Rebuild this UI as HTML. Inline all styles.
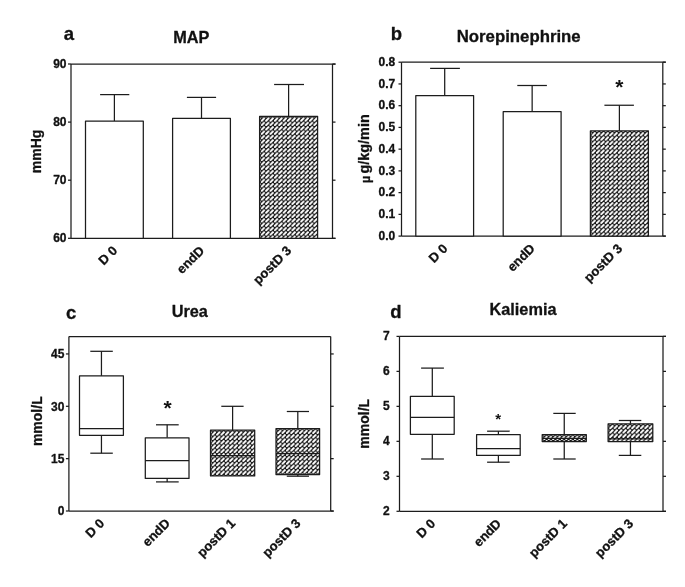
<!DOCTYPE html>
<html><head><meta charset="utf-8"><title>Figure</title>
<style>
html,body{margin:0;padding:0;background:#fff;}
body{width:685px;height:587px;overflow:hidden;font-family:"Liberation Sans",sans-serif;}
svg{display:block;will-change:transform;}
</style></head><body>
<svg width="685" height="587" viewBox="0 0 685 587">
<defs>
<pattern id="h0" patternUnits="userSpaceOnUse" x="260.81" y="117.31" width="4.38" height="4.38"><rect width="4.38" height="4.38" fill="#111"/><line x1="0.9" y1="3.48" x2="3.28" y2="1.1" stroke="#fff" stroke-width="2.1" stroke-linecap="round"/></pattern>
<pattern id="h1" patternUnits="userSpaceOnUse" x="591.61" y="131.91" width="4.38" height="4.38"><rect width="4.38" height="4.38" fill="#111"/><line x1="0.9" y1="3.48" x2="3.28" y2="1.1" stroke="#fff" stroke-width="2.1" stroke-linecap="round"/></pattern>
<pattern id="h2" patternUnits="userSpaceOnUse" x="211.71" y="431.21" width="4.38" height="4.38"><rect width="4.38" height="4.38" fill="#111"/><line x1="0.9" y1="3.48" x2="3.28" y2="1.1" stroke="#fff" stroke-width="2.1" stroke-linecap="round"/></pattern>
<pattern id="h3" patternUnits="userSpaceOnUse" x="277.21" y="429.61" width="4.38" height="4.38"><rect width="4.38" height="4.38" fill="#111"/><line x1="0.9" y1="3.48" x2="3.28" y2="1.1" stroke="#fff" stroke-width="2.1" stroke-linecap="round"/></pattern>
<pattern id="h4" patternUnits="userSpaceOnUse" x="543.41" y="435.61" width="4.38" height="4.38"><rect width="4.38" height="4.38" fill="#111"/><line x1="0.9" y1="3.48" x2="3.28" y2="1.1" stroke="#fff" stroke-width="2.1" stroke-linecap="round"/></pattern>
<pattern id="h5" patternUnits="userSpaceOnUse" x="609.31" y="424.81" width="4.38" height="4.38"><rect width="4.38" height="4.38" fill="#111"/><line x1="0.9" y1="3.48" x2="3.28" y2="1.1" stroke="#fff" stroke-width="2.1" stroke-linecap="round"/></pattern>
</defs>
<rect width="685" height="587" fill="#fff"/>
<g font-family="Liberation Sans, sans-serif" fill="#111" stroke-linejoin="round">
<line x1="71.00" y1="64.00" x2="335.50" y2="64.00" stroke="#1c1c1c" stroke-width="1.25"/>
<line x1="71.00" y1="238.30" x2="335.50" y2="238.30" stroke="#1c1c1c" stroke-width="1.25"/>
<line x1="71.00" y1="64.00" x2="71.00" y2="238.30" stroke="#1c1c1c" stroke-width="1.25"/>
<line x1="332.50" y1="64.00" x2="332.50" y2="238.30" stroke="#1c1c1c" stroke-width="1.25"/>
<line x1="68.00" y1="238.30" x2="71.00" y2="238.30" stroke="#1c1c1c" stroke-width="1.25"/>
<line x1="332.50" y1="238.30" x2="335.50" y2="238.30" stroke="#1c1c1c" stroke-width="1.25"/>
<text x="66.50" y="242.00" font-size="12" font-weight="bold" text-anchor="end" stroke="#111" stroke-width="0.3" >60</text>
<line x1="68.00" y1="180.20" x2="71.00" y2="180.20" stroke="#1c1c1c" stroke-width="1.25"/>
<line x1="332.50" y1="180.20" x2="335.50" y2="180.20" stroke="#1c1c1c" stroke-width="1.25"/>
<text x="66.50" y="183.90" font-size="12" font-weight="bold" text-anchor="end" stroke="#111" stroke-width="0.3" >70</text>
<line x1="68.00" y1="122.10" x2="71.00" y2="122.10" stroke="#1c1c1c" stroke-width="1.25"/>
<line x1="332.50" y1="122.10" x2="335.50" y2="122.10" stroke="#1c1c1c" stroke-width="1.25"/>
<text x="66.50" y="125.80" font-size="12" font-weight="bold" text-anchor="end" stroke="#111" stroke-width="0.3" >80</text>
<line x1="68.00" y1="64.00" x2="71.00" y2="64.00" stroke="#1c1c1c" stroke-width="1.25"/>
<line x1="332.50" y1="64.00" x2="335.50" y2="64.00" stroke="#1c1c1c" stroke-width="1.25"/>
<text x="66.50" y="67.70" font-size="12" font-weight="bold" text-anchor="end" stroke="#111" stroke-width="0.3" >90</text>
<line x1="114.40" y1="121.10" x2="114.40" y2="94.60" stroke="#1c1c1c" stroke-width="1.25"/>
<line x1="100.10" y1="94.60" x2="129.30" y2="94.60" stroke="#1c1c1c" stroke-width="1.25"/>
<rect x="85.50" y="121.10" width="57.80" height="117.20" fill="#fff" stroke="#1c1c1c" stroke-width="1.25"/>
<line x1="201.50" y1="118.30" x2="201.50" y2="97.40" stroke="#1c1c1c" stroke-width="1.25"/>
<line x1="186.90" y1="97.40" x2="216.10" y2="97.40" stroke="#1c1c1c" stroke-width="1.25"/>
<rect x="172.60" y="118.30" width="57.80" height="120.00" fill="#fff" stroke="#1c1c1c" stroke-width="1.25"/>
<line x1="288.60" y1="116.30" x2="288.60" y2="84.50" stroke="#1c1c1c" stroke-width="1.25"/>
<line x1="274.10" y1="84.50" x2="304.00" y2="84.50" stroke="#1c1c1c" stroke-width="1.25"/>
<rect x="259.60" y="116.30" width="58.00" height="122.00" fill="url(#h0)" stroke="#1c1c1c" stroke-width="1.25"/>
<text x="118.00" y="251.50" font-size="13" font-weight="bold" text-anchor="end" stroke="#111" stroke-width="0.3" transform="rotate(-45 118.00 251.50)">D 0</text>
<text x="205.10" y="251.50" font-size="13" font-weight="bold" text-anchor="end" stroke="#111" stroke-width="0.3" transform="rotate(-45 205.10 251.50)">endD</text>
<text x="292.20" y="251.50" font-size="13" font-weight="bold" text-anchor="end" stroke="#111" stroke-width="0.3" transform="rotate(-45 292.20 251.50)">postD 3</text>
<text x="41.50" y="151.40" font-size="14" font-weight="bold" text-anchor="middle" stroke="#111" stroke-width="0.3" transform="rotate(-90 41.50 151.40)">mmHg</text>
<text x="191.30" y="42.50" font-size="16.3" font-weight="bold" text-anchor="middle" stroke="#111" stroke-width="0.3" >MAP</text>
<text x="63.80" y="39.60" font-size="18.5" font-weight="bold" text-anchor="start" stroke="#111" stroke-width="0.3" >a</text>
<line x1="401.50" y1="62.20" x2="665.80" y2="62.20" stroke="#1c1c1c" stroke-width="1.25"/>
<line x1="401.50" y1="236.10" x2="665.80" y2="236.10" stroke="#1c1c1c" stroke-width="1.25"/>
<line x1="401.50" y1="62.20" x2="401.50" y2="236.10" stroke="#1c1c1c" stroke-width="1.25"/>
<line x1="662.80" y1="62.20" x2="662.80" y2="236.10" stroke="#1c1c1c" stroke-width="1.25"/>
<line x1="398.50" y1="236.10" x2="401.50" y2="236.10" stroke="#1c1c1c" stroke-width="1.25"/>
<line x1="662.80" y1="236.10" x2="665.80" y2="236.10" stroke="#1c1c1c" stroke-width="1.25"/>
<text x="395.20" y="239.80" font-size="12" font-weight="bold" text-anchor="end" stroke="#111" stroke-width="0.3" >0.0</text>
<line x1="398.50" y1="214.36" x2="401.50" y2="214.36" stroke="#1c1c1c" stroke-width="1.25"/>
<line x1="662.80" y1="214.36" x2="665.80" y2="214.36" stroke="#1c1c1c" stroke-width="1.25"/>
<text x="395.20" y="218.06" font-size="12" font-weight="bold" text-anchor="end" stroke="#111" stroke-width="0.3" >0.1</text>
<line x1="398.50" y1="192.62" x2="401.50" y2="192.62" stroke="#1c1c1c" stroke-width="1.25"/>
<line x1="662.80" y1="192.62" x2="665.80" y2="192.62" stroke="#1c1c1c" stroke-width="1.25"/>
<text x="395.20" y="196.32" font-size="12" font-weight="bold" text-anchor="end" stroke="#111" stroke-width="0.3" >0.2</text>
<line x1="398.50" y1="170.89" x2="401.50" y2="170.89" stroke="#1c1c1c" stroke-width="1.25"/>
<line x1="662.80" y1="170.89" x2="665.80" y2="170.89" stroke="#1c1c1c" stroke-width="1.25"/>
<text x="395.20" y="174.59" font-size="12" font-weight="bold" text-anchor="end" stroke="#111" stroke-width="0.3" >0.3</text>
<line x1="398.50" y1="149.15" x2="401.50" y2="149.15" stroke="#1c1c1c" stroke-width="1.25"/>
<line x1="662.80" y1="149.15" x2="665.80" y2="149.15" stroke="#1c1c1c" stroke-width="1.25"/>
<text x="395.20" y="152.85" font-size="12" font-weight="bold" text-anchor="end" stroke="#111" stroke-width="0.3" >0.4</text>
<line x1="398.50" y1="127.41" x2="401.50" y2="127.41" stroke="#1c1c1c" stroke-width="1.25"/>
<line x1="662.80" y1="127.41" x2="665.80" y2="127.41" stroke="#1c1c1c" stroke-width="1.25"/>
<text x="395.20" y="131.11" font-size="12" font-weight="bold" text-anchor="end" stroke="#111" stroke-width="0.3" >0.5</text>
<line x1="398.50" y1="105.68" x2="401.50" y2="105.68" stroke="#1c1c1c" stroke-width="1.25"/>
<line x1="662.80" y1="105.68" x2="665.80" y2="105.68" stroke="#1c1c1c" stroke-width="1.25"/>
<text x="395.20" y="109.38" font-size="12" font-weight="bold" text-anchor="end" stroke="#111" stroke-width="0.3" >0.6</text>
<line x1="398.50" y1="83.94" x2="401.50" y2="83.94" stroke="#1c1c1c" stroke-width="1.25"/>
<line x1="662.80" y1="83.94" x2="665.80" y2="83.94" stroke="#1c1c1c" stroke-width="1.25"/>
<text x="395.20" y="87.64" font-size="12" font-weight="bold" text-anchor="end" stroke="#111" stroke-width="0.3" >0.7</text>
<line x1="398.50" y1="62.20" x2="401.50" y2="62.20" stroke="#1c1c1c" stroke-width="1.25"/>
<line x1="662.80" y1="62.20" x2="665.80" y2="62.20" stroke="#1c1c1c" stroke-width="1.25"/>
<text x="395.20" y="65.90" font-size="12" font-weight="bold" text-anchor="end" stroke="#111" stroke-width="0.3" >0.8</text>
<line x1="444.70" y1="95.60" x2="444.70" y2="68.40" stroke="#1c1c1c" stroke-width="1.25"/>
<line x1="430.10" y1="68.40" x2="459.90" y2="68.40" stroke="#1c1c1c" stroke-width="1.25"/>
<rect x="415.80" y="95.60" width="57.80" height="140.50" fill="#fff" stroke="#1c1c1c" stroke-width="1.25"/>
<line x1="532.15" y1="111.70" x2="532.15" y2="85.50" stroke="#1c1c1c" stroke-width="1.25"/>
<line x1="517.30" y1="85.50" x2="546.90" y2="85.50" stroke="#1c1c1c" stroke-width="1.25"/>
<rect x="503.20" y="111.70" width="57.90" height="124.40" fill="#fff" stroke="#1c1c1c" stroke-width="1.25"/>
<line x1="619.40" y1="130.90" x2="619.40" y2="105.25" stroke="#1c1c1c" stroke-width="1.25"/>
<line x1="604.40" y1="105.25" x2="633.90" y2="105.25" stroke="#1c1c1c" stroke-width="1.25"/>
<rect x="590.40" y="130.90" width="58.00" height="105.20" fill="url(#h1)" stroke="#1c1c1c" stroke-width="1.25"/>
<text x="619.30" y="94.32" font-size="21" font-weight="bold" text-anchor="middle">*</text>
<text x="448.30" y="249.30" font-size="13" font-weight="bold" text-anchor="end" stroke="#111" stroke-width="0.3" transform="rotate(-45 448.30 249.30)">D 0</text>
<text x="535.70" y="249.30" font-size="13" font-weight="bold" text-anchor="end" stroke="#111" stroke-width="0.3" transform="rotate(-45 535.70 249.30)">endD</text>
<text x="623.00" y="249.30" font-size="13" font-weight="bold" text-anchor="end" stroke="#111" stroke-width="0.3" transform="rotate(-45 623.00 249.30)">postD 3</text>
<text x="368.6" y="148.6" font-size="14.4" font-weight="bold" text-anchor="middle" stroke="#111" stroke-width="0.3" transform="rotate(-90 368.6 148.6)"><tspan font-size="12.5" dy="1.2">µ</tspan><tspan dx="2.2" dy="-0.8">g/kg/min</tspan></text>
<text x="518.70" y="42.00" font-size="16.8" font-weight="bold" text-anchor="middle" stroke="#111" stroke-width="0.3" >Norepinephrine</text>
<text x="390.80" y="39.70" font-size="18.5" font-weight="bold" text-anchor="start" stroke="#111" stroke-width="0.3" >b</text>
<line x1="68.90" y1="336.50" x2="330.70" y2="336.50" stroke="#1c1c1c" stroke-width="1.25"/>
<line x1="68.90" y1="511.00" x2="333.70" y2="511.00" stroke="#1c1c1c" stroke-width="1.25"/>
<line x1="68.90" y1="336.50" x2="68.90" y2="511.00" stroke="#1c1c1c" stroke-width="1.25"/>
<line x1="330.70" y1="336.50" x2="330.70" y2="511.00" stroke="#1c1c1c" stroke-width="1.25"/>
<line x1="65.90" y1="511.00" x2="68.90" y2="511.00" stroke="#1c1c1c" stroke-width="1.25"/>
<line x1="330.70" y1="511.00" x2="333.70" y2="511.00" stroke="#1c1c1c" stroke-width="1.25"/>
<text x="64.40" y="515.20" font-size="12" font-weight="bold" text-anchor="end" stroke="#111" stroke-width="0.3" >0</text>
<line x1="65.90" y1="458.65" x2="68.90" y2="458.65" stroke="#1c1c1c" stroke-width="1.25"/>
<line x1="330.70" y1="458.65" x2="333.70" y2="458.65" stroke="#1c1c1c" stroke-width="1.25"/>
<text x="64.40" y="462.85" font-size="12" font-weight="bold" text-anchor="end" stroke="#111" stroke-width="0.3" >15</text>
<line x1="65.90" y1="406.30" x2="68.90" y2="406.30" stroke="#1c1c1c" stroke-width="1.25"/>
<line x1="330.70" y1="406.30" x2="333.70" y2="406.30" stroke="#1c1c1c" stroke-width="1.25"/>
<text x="64.40" y="410.50" font-size="12" font-weight="bold" text-anchor="end" stroke="#111" stroke-width="0.3" >30</text>
<line x1="65.90" y1="353.95" x2="68.90" y2="353.95" stroke="#1c1c1c" stroke-width="1.25"/>
<line x1="330.70" y1="353.95" x2="333.70" y2="353.95" stroke="#1c1c1c" stroke-width="1.25"/>
<text x="64.40" y="358.15" font-size="12" font-weight="bold" text-anchor="end" stroke="#111" stroke-width="0.3" >45</text>
<line x1="101.45" y1="351.30" x2="101.45" y2="375.90" stroke="#1c1c1c" stroke-width="1.25"/>
<line x1="90.30" y1="351.30" x2="112.80" y2="351.30" stroke="#1c1c1c" stroke-width="1.25"/>
<line x1="101.45" y1="435.30" x2="101.45" y2="453.20" stroke="#1c1c1c" stroke-width="1.25"/>
<line x1="90.30" y1="453.20" x2="112.80" y2="453.20" stroke="#1c1c1c" stroke-width="1.25"/>
<rect x="79.50" y="375.90" width="43.90" height="59.40" fill="#fff" stroke="#1c1c1c" stroke-width="1.25"/>
<line x1="79.50" y1="428.50" x2="123.40" y2="428.50" stroke="#1c1c1c" stroke-width="1.25"/>
<line x1="167.15" y1="424.80" x2="167.15" y2="437.80" stroke="#1c1c1c" stroke-width="1.25"/>
<line x1="156.00" y1="424.80" x2="178.70" y2="424.80" stroke="#1c1c1c" stroke-width="1.25"/>
<line x1="167.15" y1="478.40" x2="167.15" y2="481.90" stroke="#1c1c1c" stroke-width="1.25"/>
<line x1="156.00" y1="481.90" x2="178.70" y2="481.90" stroke="#1c1c1c" stroke-width="1.25"/>
<rect x="145.30" y="437.80" width="43.70" height="40.60" fill="#fff" stroke="#1c1c1c" stroke-width="1.25"/>
<line x1="145.30" y1="460.50" x2="189.00" y2="460.50" stroke="#1c1c1c" stroke-width="1.25"/>
<line x1="232.60" y1="406.30" x2="232.60" y2="430.20" stroke="#1c1c1c" stroke-width="1.25"/>
<line x1="221.30" y1="406.30" x2="243.60" y2="406.30" stroke="#1c1c1c" stroke-width="1.25"/>
<rect x="210.50" y="430.20" width="44.20" height="45.70" fill="url(#h2)" stroke="#1c1c1c" stroke-width="1.25"/>
<line x1="210.50" y1="455.60" x2="254.70" y2="455.60" stroke="#1c1c1c" stroke-width="1.25"/>
<line x1="297.80" y1="411.50" x2="297.80" y2="428.60" stroke="#1c1c1c" stroke-width="1.25"/>
<line x1="286.80" y1="411.50" x2="309.00" y2="411.50" stroke="#1c1c1c" stroke-width="1.25"/>
<line x1="297.80" y1="474.50" x2="297.80" y2="476.20" stroke="#1c1c1c" stroke-width="1.25"/>
<line x1="286.80" y1="476.20" x2="309.00" y2="476.20" stroke="#1c1c1c" stroke-width="1.25"/>
<rect x="276.00" y="428.60" width="43.60" height="45.90" fill="url(#h3)" stroke="#1c1c1c" stroke-width="1.25"/>
<line x1="276.00" y1="453.70" x2="319.60" y2="453.70" stroke="#1c1c1c" stroke-width="1.25"/>
<text x="167.70" y="415.42" font-size="21" font-weight="bold" text-anchor="middle">*</text>
<text x="105.00" y="524.20" font-size="13" font-weight="bold" text-anchor="end" stroke="#111" stroke-width="0.3" transform="rotate(-45 105.00 524.20)">D 0</text>
<text x="170.80" y="524.20" font-size="13" font-weight="bold" text-anchor="end" stroke="#111" stroke-width="0.3" transform="rotate(-45 170.80 524.20)">endD</text>
<text x="236.10" y="524.20" font-size="13" font-weight="bold" text-anchor="end" stroke="#111" stroke-width="0.3" transform="rotate(-45 236.10 524.20)">postD 1</text>
<text x="301.40" y="524.20" font-size="13" font-weight="bold" text-anchor="end" stroke="#111" stroke-width="0.3" transform="rotate(-45 301.40 524.20)">postD 3</text>
<text x="42.00" y="421.20" font-size="14" font-weight="bold" text-anchor="middle" stroke="#111" stroke-width="0.3" transform="rotate(-90 42.00 421.20)">mmol/L</text>
<text x="189.80" y="316.80" font-size="16.3" font-weight="bold" text-anchor="middle" stroke="#111" stroke-width="0.3" >Urea</text>
<text x="66.00" y="319.00" font-size="18.5" font-weight="bold" text-anchor="start" stroke="#111" stroke-width="0.3" >c</text>
<line x1="399.50" y1="336.40" x2="666.00" y2="336.40" stroke="#1c1c1c" stroke-width="1.25"/>
<line x1="399.50" y1="511.30" x2="666.00" y2="511.30" stroke="#1c1c1c" stroke-width="1.25"/>
<line x1="399.50" y1="336.40" x2="399.50" y2="511.30" stroke="#1c1c1c" stroke-width="1.25"/>
<line x1="663.00" y1="336.40" x2="663.00" y2="511.30" stroke="#1c1c1c" stroke-width="1.25"/>
<line x1="396.50" y1="511.30" x2="399.50" y2="511.30" stroke="#1c1c1c" stroke-width="1.25"/>
<line x1="663.00" y1="511.30" x2="666.00" y2="511.30" stroke="#1c1c1c" stroke-width="1.25"/>
<text x="389.60" y="515.00" font-size="12" font-weight="bold" text-anchor="end" stroke="#111" stroke-width="0.3" >2</text>
<line x1="396.50" y1="476.32" x2="399.50" y2="476.32" stroke="#1c1c1c" stroke-width="1.25"/>
<line x1="663.00" y1="476.32" x2="666.00" y2="476.32" stroke="#1c1c1c" stroke-width="1.25"/>
<text x="389.60" y="480.02" font-size="12" font-weight="bold" text-anchor="end" stroke="#111" stroke-width="0.3" >3</text>
<line x1="396.50" y1="441.34" x2="399.50" y2="441.34" stroke="#1c1c1c" stroke-width="1.25"/>
<line x1="663.00" y1="441.34" x2="666.00" y2="441.34" stroke="#1c1c1c" stroke-width="1.25"/>
<text x="389.60" y="445.04" font-size="12" font-weight="bold" text-anchor="end" stroke="#111" stroke-width="0.3" >4</text>
<line x1="396.50" y1="406.36" x2="399.50" y2="406.36" stroke="#1c1c1c" stroke-width="1.25"/>
<line x1="663.00" y1="406.36" x2="666.00" y2="406.36" stroke="#1c1c1c" stroke-width="1.25"/>
<text x="389.60" y="410.06" font-size="12" font-weight="bold" text-anchor="end" stroke="#111" stroke-width="0.3" >5</text>
<line x1="396.50" y1="371.38" x2="399.50" y2="371.38" stroke="#1c1c1c" stroke-width="1.25"/>
<line x1="663.00" y1="371.38" x2="666.00" y2="371.38" stroke="#1c1c1c" stroke-width="1.25"/>
<text x="389.60" y="375.08" font-size="12" font-weight="bold" text-anchor="end" stroke="#111" stroke-width="0.3" >6</text>
<line x1="396.50" y1="336.40" x2="399.50" y2="336.40" stroke="#1c1c1c" stroke-width="1.25"/>
<line x1="663.00" y1="336.40" x2="666.00" y2="336.40" stroke="#1c1c1c" stroke-width="1.25"/>
<text x="389.60" y="340.10" font-size="12" font-weight="bold" text-anchor="end" stroke="#111" stroke-width="0.3" >7</text>
<line x1="432.30" y1="368.10" x2="432.30" y2="396.30" stroke="#1c1c1c" stroke-width="1.25"/>
<line x1="421.10" y1="368.10" x2="443.90" y2="368.10" stroke="#1c1c1c" stroke-width="1.25"/>
<line x1="432.30" y1="434.30" x2="432.30" y2="459.00" stroke="#1c1c1c" stroke-width="1.25"/>
<line x1="421.10" y1="459.00" x2="443.90" y2="459.00" stroke="#1c1c1c" stroke-width="1.25"/>
<rect x="410.40" y="396.30" width="43.80" height="38.00" fill="#fff" stroke="#1c1c1c" stroke-width="1.25"/>
<line x1="410.40" y1="417.30" x2="454.20" y2="417.30" stroke="#1c1c1c" stroke-width="1.25"/>
<line x1="498.40" y1="431.20" x2="498.40" y2="434.60" stroke="#1c1c1c" stroke-width="1.25"/>
<line x1="487.10" y1="431.20" x2="509.70" y2="431.20" stroke="#1c1c1c" stroke-width="1.25"/>
<line x1="498.40" y1="455.40" x2="498.40" y2="462.20" stroke="#1c1c1c" stroke-width="1.25"/>
<line x1="487.10" y1="462.20" x2="509.70" y2="462.20" stroke="#1c1c1c" stroke-width="1.25"/>
<rect x="476.60" y="434.60" width="43.60" height="20.80" fill="#fff" stroke="#1c1c1c" stroke-width="1.25"/>
<line x1="476.60" y1="448.50" x2="520.20" y2="448.50" stroke="#1c1c1c" stroke-width="1.25"/>
<line x1="564.25" y1="413.40" x2="564.25" y2="434.60" stroke="#1c1c1c" stroke-width="1.25"/>
<line x1="553.30" y1="413.40" x2="575.70" y2="413.40" stroke="#1c1c1c" stroke-width="1.25"/>
<line x1="564.25" y1="441.50" x2="564.25" y2="459.00" stroke="#1c1c1c" stroke-width="1.25"/>
<line x1="553.30" y1="459.00" x2="575.70" y2="459.00" stroke="#1c1c1c" stroke-width="1.25"/>
<rect x="542.20" y="434.60" width="44.10" height="6.90" fill="url(#h4)" stroke="#1c1c1c" stroke-width="1.25"/>
<line x1="542.20" y1="438.40" x2="586.30" y2="438.40" stroke="#1c1c1c" stroke-width="1.25"/>
<line x1="630.45" y1="420.50" x2="630.45" y2="423.80" stroke="#1c1c1c" stroke-width="1.25"/>
<line x1="618.80" y1="420.50" x2="641.30" y2="420.50" stroke="#1c1c1c" stroke-width="1.25"/>
<line x1="630.45" y1="441.50" x2="630.45" y2="455.40" stroke="#1c1c1c" stroke-width="1.25"/>
<line x1="618.80" y1="455.40" x2="641.30" y2="455.40" stroke="#1c1c1c" stroke-width="1.25"/>
<rect x="608.10" y="423.80" width="44.70" height="17.70" fill="url(#h5)" stroke="#1c1c1c" stroke-width="1.25"/>
<line x1="608.10" y1="438.80" x2="652.80" y2="438.80" stroke="#1c1c1c" stroke-width="1.25"/>
<text x="498.20" y="423.90" font-size="15" font-weight="bold" text-anchor="middle">*</text>
<text x="436.00" y="524.50" font-size="13" font-weight="bold" text-anchor="end" stroke="#111" stroke-width="0.3" transform="rotate(-45 436.00 524.50)">D 0</text>
<text x="502.00" y="524.50" font-size="13" font-weight="bold" text-anchor="end" stroke="#111" stroke-width="0.3" transform="rotate(-45 502.00 524.50)">endD</text>
<text x="567.90" y="524.50" font-size="13" font-weight="bold" text-anchor="end" stroke="#111" stroke-width="0.3" transform="rotate(-45 567.90 524.50)">postD 1</text>
<text x="634.00" y="524.50" font-size="13" font-weight="bold" text-anchor="end" stroke="#111" stroke-width="0.3" transform="rotate(-45 634.00 524.50)">postD 3</text>
<text x="369.50" y="423.80" font-size="14" font-weight="bold" text-anchor="middle" stroke="#111" stroke-width="0.3" transform="rotate(-90 369.50 423.80)">mmol/L</text>
<text x="523.00" y="315.20" font-size="16.3" font-weight="bold" text-anchor="middle" stroke="#111" stroke-width="0.3" >Kaliemia</text>
<text x="390.20" y="317.80" font-size="18.5" font-weight="bold" text-anchor="start" stroke="#111" stroke-width="0.3" >d</text>
</g>
</svg>
</body></html>
